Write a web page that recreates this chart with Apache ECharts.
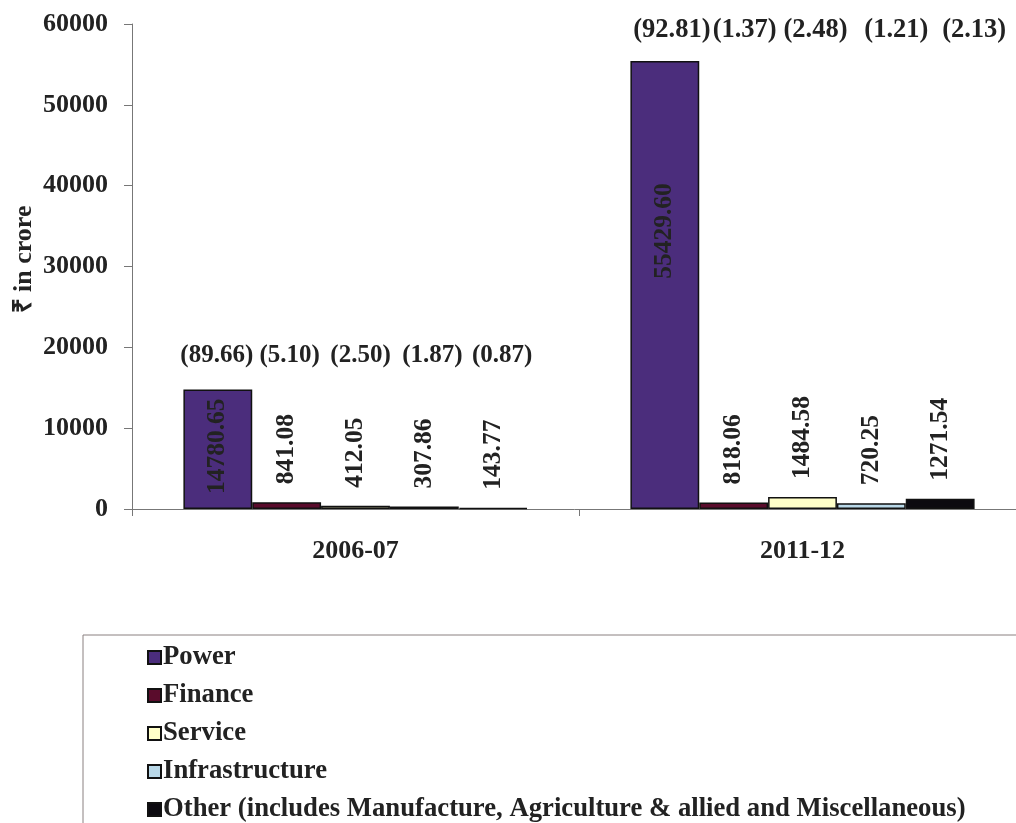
<!DOCTYPE html>
<html>
<head>
<meta charset="utf-8">
<script src="https://cdn.jsdelivr.net/npm/echarts@6/dist/echarts.min.js"></script>
<style>
  html, body { margin: 0; padding: 0; background: #fff; }
  #chart { width: 1016px; height: 823px; }
</style>
</head>
<body>
<div id="chart"></div>
<script>
// Years on the category axis
const categories = ['2006-07', '2011-12'];

// Sector names (legend order)
const sectorNames = [
  'Power',
  'Finance',
  'Service',
  'Infrastructure',
  'Other (includes Manufacture, Agriculture & allied and Miscellaneous)'
];

// Amounts in ₹ crore per sector, one value per year
const power          = [14780.65, 55429.60];
const finance        = [841.08, 818.06];
const service        = [412.05, 1484.58];
const infrastructure = [307.86, 720.25];
const other          = [143.77, 1271.54];

// Share of the year's total, in per cent
const powerShare          = [89.66, 92.81];
const financeShare        = [5.10, 1.37];
const serviceShare        = [2.50, 2.48];
const infrastructureShare = [1.87, 1.21];
const otherShare          = [0.87, 2.13];

// Y axis tick values
const yTicks = [0, 10000, 20000, 30000, 40000, 50000, 60000];

const sectorValues = [power, finance, service, infrastructure, other];
const sectorShares = [powerShare, financeShare, serviceShare, infrastructureShare, otherShare];
const sectorColors = ['#4b2d7c', '#5a0c2c', '#ffffc8', '#b9d8e8', '#0c0a10'];

const FONT = "'Liberation Serif', 'Times New Roman', serif";
const TEXT = '#222';

// Percentage row: height in axis units, font size and horizontal nudge per year
const shareRowLevel = [19000, 59300];
const shareRowFont = [25, 26.5];
const shareRowNudge = [[-1, 3, 5, 8, 9], [7, 11, 13, 25, 34]];

const chart = echarts.init(document.getElementById('chart'), null, { renderer: 'canvas' });

const series = sectorNames.map((name, s) => ({
  name: name,
  type: 'bar',
  barGap: '0%',
  barCategoryGap: '23%',
  itemStyle: { color: sectorColors[s], borderColor: '#111', borderWidth: 1.5 },
  data: sectorValues[s].map((v, i) => {
    const item = { value: v };
    if (s === 0) {
      // the Power bars carry their value inside; the tall one sits above its middle
      item.label = {
        show: true,
        position: 'inside',
        rotate: 90,
        offset: i === 1 ? [54, 0] : [3, 0],
        align: 'center',
        verticalAlign: 'middle'
      };
    }
    return item;
  }),
  label: {
    show: true,
    position: 'top',
    rotate: 90,
    align: 'left',
    verticalAlign: 'middle',
    distance: 18,
    fontFamily: FONT,
    fontWeight: 'bold',
    fontSize: 25.5,
    color: TEXT,
    formatter: p => p.value.toFixed(2)
  },
  markPoint: {
    symbol: 'rect',
    symbolSize: 1,
    itemStyle: { color: 'rgba(0,0,0,0)' },
    silent: true,
    label: {
      show: true,
      position: 'inside',
      fontFamily: FONT,
      fontWeight: 'bold',
      fontSize: 25,
      color: TEXT,
      formatter: p => '(' + p.value.toFixed(2) + ')'
    },
    data: categories.map((c, i) => ({
      coord: [c, shareRowLevel[i]],
      value: sectorShares[s][i],
      label: { fontSize: shareRowFont[i], offset: [shareRowNudge[i][s], 0] }
    }))
  }
}));

const option = {
  backgroundColor: '#fff',
  animation: false,
  grid: { left: 132, top: 24, bottom: 314, width: 894, containLabel: false, outerBoundsMode: 'none' },
  legend: {
    orient: 'vertical',
    left: 83,
    top: 635,
    height: 400,
    padding: [9, 60, 40, 64],
    itemGap: 11,
    itemWidth: 13,
    itemHeight: 13,
    icon: 'rect',
    backgroundColor: '#fff',
    borderColor: '#8a8080',
    borderWidth: 1,
    textStyle: { fontFamily: FONT, fontWeight: 'bold', fontSize: 26.7, color: TEXT, padding: [0, 0, 0, -3] },
    data: sectorNames
  },
  xAxis: {
    type: 'category',
    data: categories,
    axisLine: { lineStyle: { color: '#777', width: 1 } },
    axisTick: { show: true, length: 7, lineStyle: { color: '#777' } },
    axisLabel: { fontFamily: FONT, fontWeight: 'bold', fontSize: 26, color: TEXT, margin: 29 }
  },
  yAxis: {
    type: 'value',
    min: yTicks[0],
    max: yTicks[yTicks.length - 1],
    interval: yTicks[1] - yTicks[0],
    name: '₹ in crore',
    nameLocation: 'middle',
    nameGap: 95,
    nameMoveOverlap: false,
    nameRotate: 90,
    nameTextStyle: { fontFamily: FONT, fontWeight: 'bold', fontSize: 26, color: TEXT, padding: [0, 0, 0, 14] },
    axisLine: { show: true, lineStyle: { color: '#777', width: 1 } },
    axisTick: { show: true, length: 8, lineStyle: { color: '#777' } },
    splitLine: { show: false },
    axisLabel: {
      fontFamily: FONT, fontWeight: 'bold', fontSize: 26, color: TEXT, margin: 24,
      formatter: v => String(v)
    }
  },
  series: series
};

chart.setOption(option);
</script>
</body>
</html>
